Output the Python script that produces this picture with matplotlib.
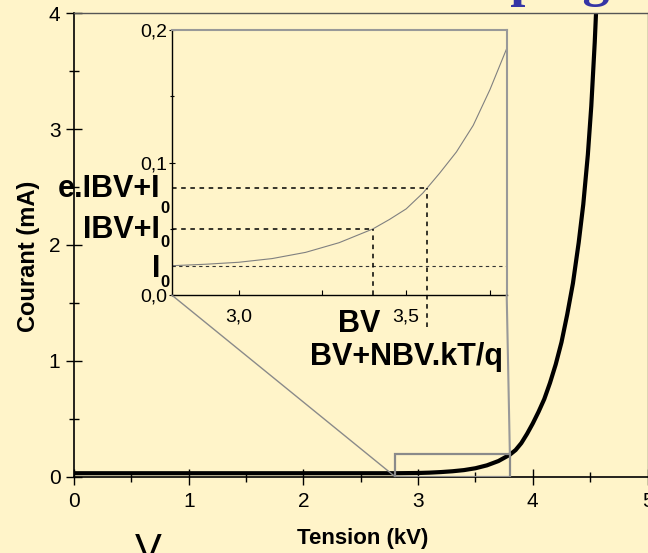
import matplotlib
matplotlib.use("Agg")
import matplotlib.pyplot as plt
from matplotlib.patches import Rectangle, ConnectionPatch
from matplotlib.ticker import MultipleLocator

plt.rcParams['font.family'] = ['Liberation Sans', 'DejaVu Sans']

# Data
v_main = [0.0, 1.0, 2.0, 2.8, 3.0, 3.1, 3.2, 3.3, 3.4, 3.5, 3.6, 3.7, 3.8,
          3.85, 3.9, 3.95, 4.0, 4.05, 4.1, 4.15, 4.2, 4.25, 4.3, 4.35, 4.4,
          4.44, 4.48, 4.51, 4.54, 4.56]
i_main = [0.03, 0.03, 0.03, 0.03, 0.032, 0.035, 0.04, 0.047, 0.057, 0.073, 0.098, 0.135, 0.19,
          0.23, 0.29, 0.37, 0.46, 0.56, 0.67, 0.81, 0.97, 1.16, 1.40, 1.67, 2.02,
          2.35, 2.78, 3.2, 3.75, 4.2]

v_zoom = [2.8, 2.9, 3.0, 3.1, 3.2, 3.3, 3.4, 3.45, 3.5, 3.55, 3.6, 3.65, 3.7, 3.75, 3.8]
i_zoom = [0.0221, 0.0232, 0.0247, 0.0275, 0.0322, 0.0395, 0.0498, 0.057, 0.065, 0.077,
          0.092, 0.108, 0.128, 0.155, 0.186]

i0 = 0.0221
ibv_i0 = 0.0498
e_ibv_i0 = 0.081
bv = 3.40
bv_n = 3.563

zoom_x = (2.8, 3.8)
zoom_y = (0.0, 0.2)

bg = '#FFF4C9'
W, H = 648, 553

fig = plt.figure(figsize=(W / 100, H / 100), dpi=100, facecolor=bg)


def fx(px):
    return px / W


def fy(py):
    return 1 - py / H


# main axes
ax = fig.add_axes([fx(74), fy(476.7), 573.5 / W, 463.4 / H], facecolor=bg)
ax.plot(v_main, i_main, color='black', lw=3, solid_capstyle='butt', solid_joinstyle='round')
ax.set_xlim(0, 5)
ax.set_ylim(0, 4)
ax.xaxis.set_major_locator(MultipleLocator(1))
ax.xaxis.set_minor_locator(MultipleLocator(0.5))
ax.yaxis.set_major_locator(MultipleLocator(1))
ax.yaxis.set_minor_locator(MultipleLocator(0.5))
ax.tick_params(which='major', direction='inout', length=11.5, width=1, labelsize=15, pad=4)
ax.tick_params(which='minor', direction='inout', length=7, width=1)
ax.tick_params(axis='x', which='major', pad=5)
for s in ['left', 'bottom']:
    ax.spines[s].set_linewidth(1.2)
for s in ['top', 'right']:
    ax.spines[s].set_color('#555555')
    ax.spines[s].set_linewidth(1.0)
ax.set_xlabel('Tension (kV)', fontsize=16, fontweight='bold')
ax.xaxis.set_label_coords(0.504, -0.111)
ax.set_ylabel('Courant (mA)', fontsize=17, fontweight='bold')
ax.yaxis.set_label_coords(-0.059, 0.476)

# zoom box on main axes
ax.add_patch(Rectangle((zoom_x[0], zoom_y[0]), zoom_x[1] - zoom_x[0], zoom_y[1] - zoom_y[0],
                       fill=False, ec='#8a8a8a', lw=1.6, zorder=3))

# inset axes
axi = fig.add_axes([fx(171.7), fy(295), 335 / W, 265 / H], facecolor=bg)
axi.plot(v_zoom, i_zoom, color='#808080', lw=0.8)
axi.set_xlim(*zoom_x)
axi.set_ylim(*zoom_y)
axi.axhline(i0, color='#333333', lw=0.8, linestyle=(0, (3, 3)))
axi.plot([zoom_x[0], bv], [ibv_i0, ibv_i0], color='black', lw=1.1, linestyle=(0, (3, 3)))
axi.plot([bv, bv], [0, ibv_i0], color='black', lw=1.1, linestyle=(0, (3, 3)))
axi.plot([zoom_x[0], bv_n], [e_ibv_i0, e_ibv_i0], color='black', lw=1.1, linestyle=(0, (3, 3)))
axi.plot([bv_n, bv_n], [-0.024, e_ibv_i0], color='black', lw=1.1, linestyle=(0, (3, 3)),
         clip_on=False)
axi.set_xticks([3.0, 3.5], ['3,0', '3,5'])
axi.set_xticks([3.25, 3.75], minor=True)
axi.set_yticks([0.0, 0.1, 0.2], ['0,0', '0,1', '0,2'])
axi.set_yticks([0.05, 0.15], minor=True)
axi.tick_params(axis='x', which='both', direction='in', length=3.6, width=0.8, labelsize=14, pad=10)
axi.tick_params(axis='y', which='major', direction='inout', length=5, width=0.8, labelsize=14, pad=1)
axi.tick_params(axis='y', which='minor', direction='inout', length=3.5, width=0.8)
for s in ['left', 'bottom']:
    axi.spines[s].set_linewidth(1.0)
for s in ['top', 'right']:
    axi.spines[s].set_color('#999999')
    axi.spines[s].set_linewidth(1.5)

# connectors between inset and zoom box
fig.add_artist(ConnectionPatch(xyA=(zoom_x[0], zoom_y[0]), coordsA=axi.transData,
                               xyB=(zoom_x[0], zoom_y[0]), coordsB=ax.transData,
                               color='#8a8a8a', lw=1.0))
fig.add_artist(ConnectionPatch(xyA=(zoom_x[1], zoom_y[0]), coordsA=axi.transData,
                               xyB=(zoom_x[1], zoom_y[1]), coordsB=ax.transData,
                               color='#999999', lw=1.5))

# annotations
big = dict(fontsize=22, fontweight='bold', color='black')
sub = dict(fontsize=12, fontweight='bold', color='black')
for label, base, sub_base in [('e.IBV+I', 197, 213), ('IBV+I', 238, 247), ('I', 277, 287)]:
    fig.text(fx(160), fy(base), label, ha='right', va='baseline', **big)
    fig.text(fx(160), fy(sub_base), '0', ha='left', va='baseline', **sub)
fig.text(fx(359), fy(332), 'BV', ha='center', va='baseline', **big)
fig.text(fx(503), fy(365), 'BV+NBV.kT/q', ha='right', va='baseline', **big)

# cropped slide title and text at the edges
fig.text(fx(414), fy(-5), 'Couplage', family='Liberation Serif', fontsize=39,
         fontweight='bold', color='#3535A5', ha='left', va='baseline')
fig.text(fx(135), fy(561.6), 'V', fontsize=29, color='black', ha='left', va='baseline')

fig.savefig('out.png', dpi=100, facecolor=bg)
